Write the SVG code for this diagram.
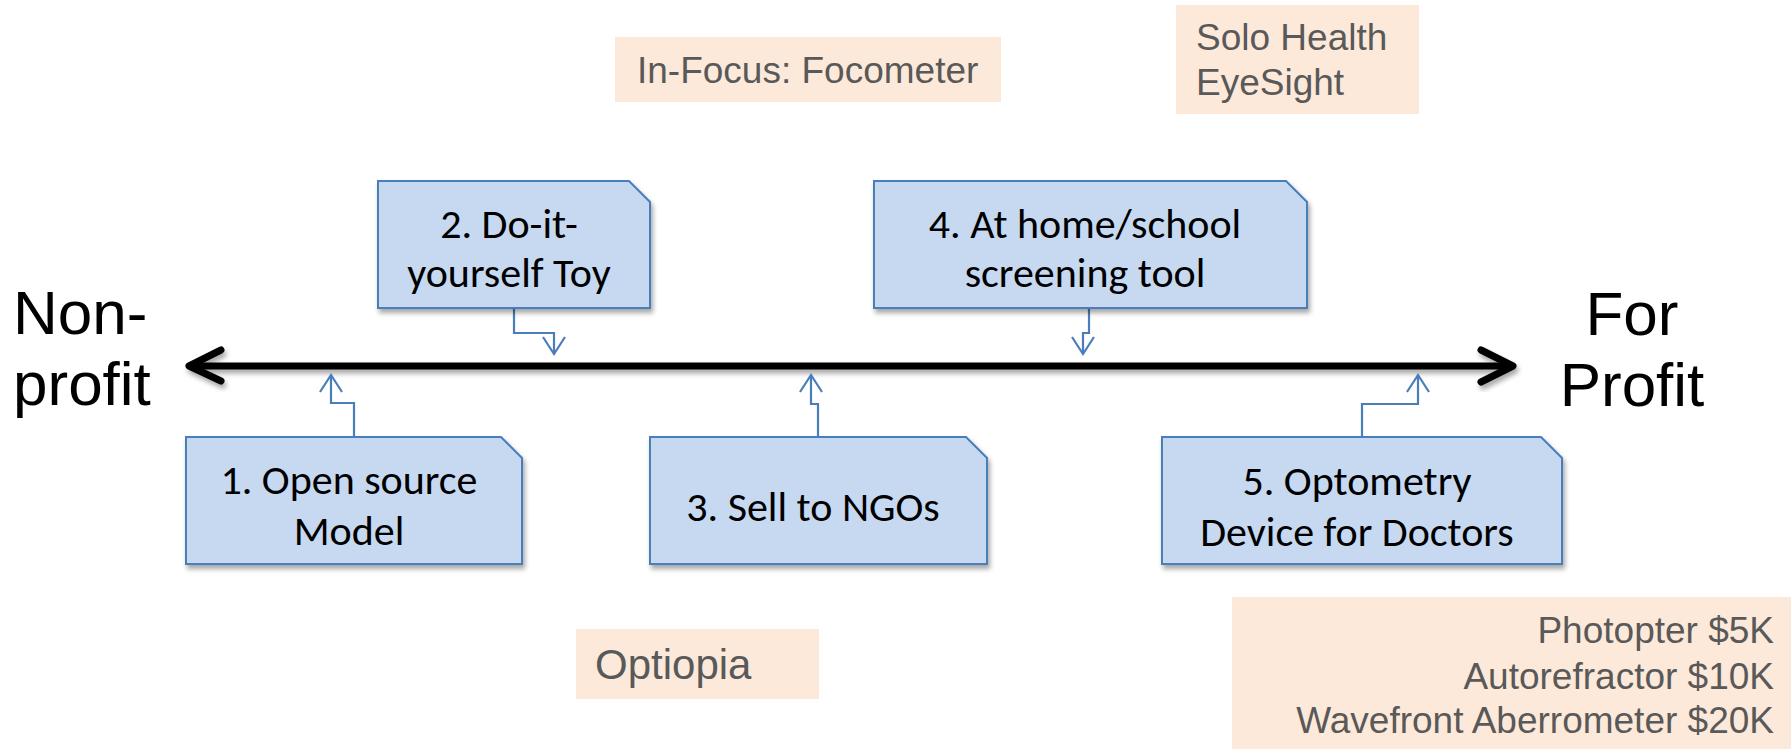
<svg xmlns="http://www.w3.org/2000/svg" width="1791" height="749" viewBox="0 0 1791 749">
<defs>
<filter id="sh" x="-10%" y="-10%" width="130%" height="140%">
<feDropShadow dx="2" dy="4" stdDeviation="2.5" flood-color="#000" flood-opacity="0.35"/>
</filter>
<marker id="arr" viewBox="-20 -13 24 26" refX="0" refY="0" markerWidth="24" markerHeight="26" orient="auto" markerUnits="userSpaceOnUse">
<path d="M-17,-11 L0,0 L-17,11" fill="none" stroke="#4A7EBB" stroke-width="2.2"/>
</marker>
<style>
.box{fill:#C6D9F1;stroke:#4A7EBB;stroke-width:2;filter:url(#sh)}
.bt{font-family:Carlito,Lato,"Liberation Sans",sans-serif;font-size:42px;fill:#000;text-anchor:middle}
.note{fill:#FDE9D9}
.nt{font-family:"Liberation Sans",Arial,sans-serif;font-size:37px;fill:#595959}
.big{font-family:"Liberation Sans",Arial,sans-serif;font-size:62px;fill:#000}
.con{fill:none;stroke:#4A7EBB;stroke-width:2.2;marker-end:url(#arr)}
</style>
</defs>
<rect width="1791" height="749" fill="#fff"/>

<g id="axis">
<g filter="url(#sh)" fill="none" stroke="#000" stroke-width="7" stroke-linecap="round" stroke-linejoin="round">
<line x1="192" y1="366" x2="1509" y2="366"/>
<path d="M221,350 L189,366 L221,381"/>
<path d="M1481,350 L1513,366 L1481,382"/>
</g>
<text class="big" x="13" y="334">Non-</text>
<text class="big" x="13" y="405">profit</text>
<text class="big" x="1632" y="335" text-anchor="middle">For</text>
<text class="big" x="1632" y="406" text-anchor="middle">Profit</text>
</g>

<g id="note-infocus">
<rect class="note" x="615" y="37" width="386" height="65"/>
<text class="nt" x="637" y="83">In-Focus: Focometer</text>
</g>
<g id="note-solo">
<rect class="note" x="1176" y="5" width="243" height="109"/>
<text class="nt" x="1196" y="50">Solo Health</text>
<text class="nt" x="1196" y="95">EyeSight</text>
</g>
<g id="note-optiopia">
<rect class="note" x="576" y="629" width="243" height="70"/>
<text class="nt" x="595" y="679" style="font-size:42px">Optiopia</text>
</g>
<g id="note-prices">
<rect class="note" x="1232" y="597" width="559" height="152"/>
<text class="nt" x="1774" y="643" text-anchor="end">Photopter $5K</text>
<text class="nt" x="1774" y="689" text-anchor="end">Autorefractor $10K</text>
<text class="nt" x="1774" y="733" text-anchor="end">Wavefront Aberrometer $20K</text>
</g>

<g id="connectors">
<path class="con" d="M354,437 V403 H331 V375"/>
<path class="con" d="M514,308 V333 H554 V354"/>
<path class="con" d="M818,437 V404 H811 V375"/>
<path class="con" d="M1089,308 V333 H1083 V354"/>
<path class="con" d="M1362,437 V404 H1418 V375"/>
</g>

<g id="node1">
<path class="box" d="M186,437 H501 L522,458 V564 H186 Z"/>
<text class="bt" x="349" y="494">1. Open source</text>
<text class="bt" x="349" y="545">Model</text>
</g>
<g id="node2">
<path class="box" d="M378,181 H629 L650,202 V308 H378 Z"/>
<text class="bt" x="509" y="238">2. Do-it-</text>
<text class="bt" x="509" y="287">yourself Toy</text>
</g>
<g id="node3">
<path class="box" d="M650,437 H966 L987,458 V564 H650 Z"/>
<text class="bt" x="813" y="521">3. Sell to NGOs</text>
</g>
<g id="node4">
<path class="box" d="M874,181 H1286 L1307,202 V308 H874 Z"/>
<text class="bt" x="1085" y="238">4. At home/school</text>
<text class="bt" x="1085" y="287">screening tool</text>
</g>
<g id="node5">
<path class="box" d="M1162,437 H1541 L1562,458 V564 H1162 Z"/>
<text class="bt" x="1357" y="495">5. Optometry</text>
<text class="bt" x="1357" y="546">Device for Doctors</text>
</g>
</svg>
